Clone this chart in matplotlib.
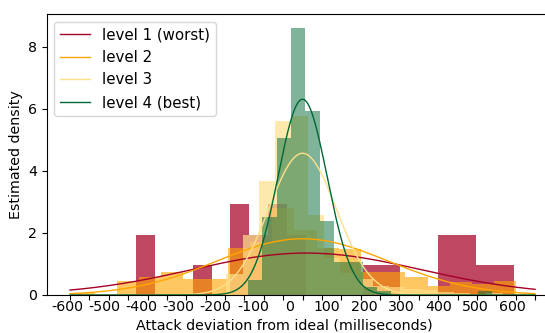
import numpy as np
import matplotlib
matplotlib.use("Agg")
import matplotlib.pyplot as plt

levels = ["level 1 (worst)", "level 2", "level 3", "level 4 (best)"]
colors = ["#a50026", "#ffa500", "#fee08b", "#006837"]
alphas = [0.72, 0.62, 0.7, 0.5]

# histogram ranges (seconds, 20 bins each) and bar densities
l1_range = (-0.4297, 0.545)
l1_heights = [1.95, 0, 0, 0.98, 0, 2.93, 1.95, 2.93, 1.95, 0,
              0, 0, 0.98, 0.98, 0, 0, 1.95, 1.95, 0.98, 0.98]
l2_range = (-0.594, 0.552)
l2_heights = [0.08, 0, 0.46, 0.58, 0.74, 0.53, 0.53, 1.5, 1.7, 2.8,
              2.1, 1.5, 1.48, 0.75, 0.75, 0.59, 0.29, 0.43, 0.35, 0.45]
l3_range = (-0.2387, 0.6)
l3_heights = [0, 0.68, 1.94, 3.66, 5.61, 5.77, 2.58, 1.2, 0.7, 0.5,
              0.3, 0.25, 0.2, 0.15, 0.1, 0.08, 0, 0.08, 0, 0.08]
l4_range = (-0.2526, 0.489)
l4_heights = [0, 0, 0, 0.48, 2.53, 5.07, 8.62, 5.94, 2.37, 1.06,
              1.06, 0.27, 0.13, 0, 0, 0, 0, 0, 0, 0.13]

# normal fits (mean, std in seconds)
fit_mean = [0.01, 0.0, 0.0, 0.0]
fit_std = [0.295, 0.22, 0.0873, 0.0632]

tick_labels = ["-600", "-500", "-400", "-300", "-200", "-100", "0",
               "100", "200", "300", "400", "500", "600"]

ranges = [l1_range, l2_range, l3_range, l4_range]
heights = [l1_heights, l2_heights, l3_heights, l4_heights]

fig = plt.figure(figsize=(5.45, 3.33), dpi=100)
ax = fig.add_axes([46.8 / 545, 38 / 333, 511.5 / 545, 281 / 333])

for rng, h, c, a in zip(ranges, heights, colors, alphas):
    edges = np.linspace(rng[0], rng[1], len(h) + 1)
    ax.bar(edges[:-1], h, width=np.diff(edges), align="edge",
           color=c, alpha=a, linewidth=0)

xs = np.linspace(-0.6, 0.6, 400)
for name, c, m, s in zip(levels, colors, fit_mean, fit_std):
    pdf = np.exp(-0.5 * ((xs - m) / s) ** 2) / (s * np.sqrt(2 * np.pi))
    ax.plot(xs, pdf, color=c, linewidth=1.0, label=name)

ax.set_xlim(-0.66, 0.66)
ax.set_ylim(0, 9.06)
ax.spines["right"].set_visible(False)
ax.set_xticks(np.arange(-0.6, 0.601, 0.05), minor=True)
ax.set_xticks(np.linspace(-0.6077, 0.5424, 13), tick_labels)
ax.tick_params(axis="x", which="major", length=0, labelsize=10.2)
ax.tick_params(axis="x", which="minor", length=3.5, width=0.8)
ax.set_yticks([0, 2, 4, 6, 8])
ax.tick_params(axis="y", labelsize=10.2)
ax.set_xlabel("Attack deviation from ideal (milliseconds)", fontsize=10.3,
              labelpad=3, x=0.4637)
ax.set_ylabel("Estimated density", fontsize=10.3)
ax.legend(loc="upper left", fontsize=10.8)

fig.savefig("out.png", dpi=100)
